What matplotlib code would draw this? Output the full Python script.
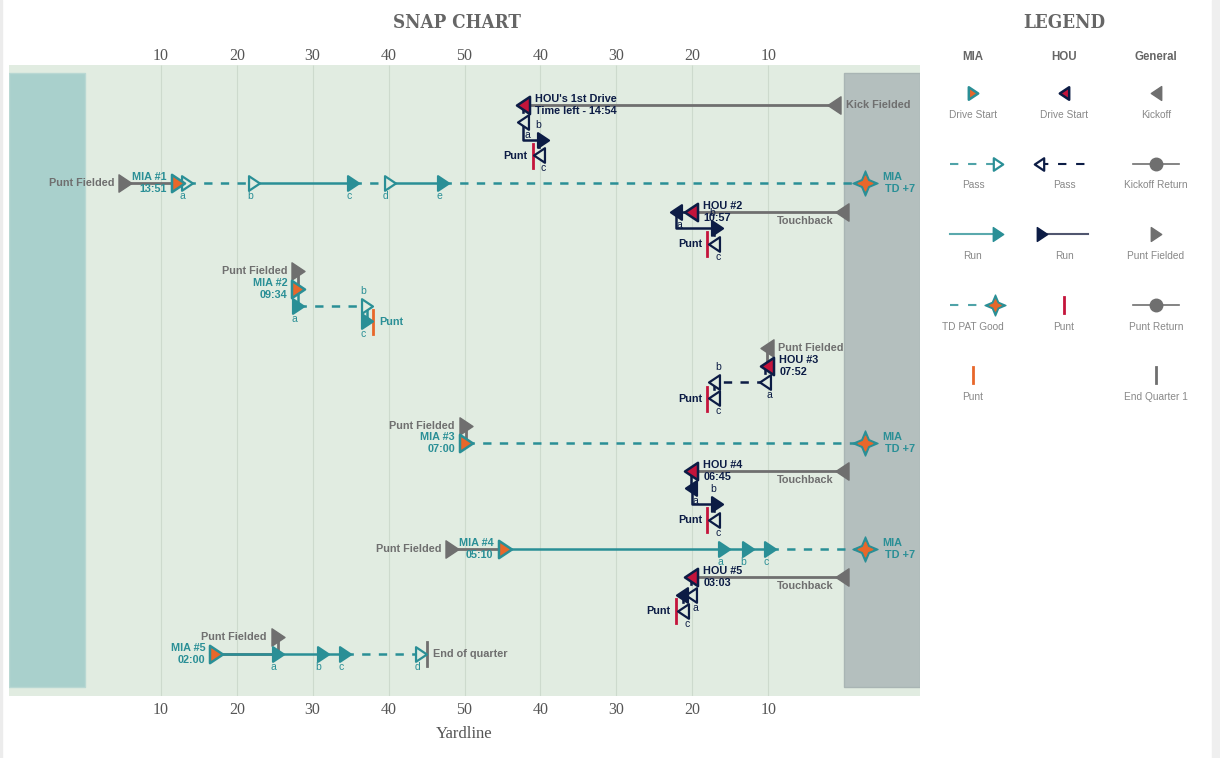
import matplotlib
matplotlib.use('Agg')
import matplotlib.pyplot as plt
from matplotlib.path import Path
from matplotlib.patches import Rectangle

# ---- data (yards from MIA goal line, lanes top -> bottom) ----
drive_team = ['HOU', 'MIA', 'HOU', 'MIA', 'HOU', 'MIA', 'HOU', 'MIA', 'HOU', 'MIA']
drive_name = ["HOU's 1st Drive", 'MIA #1', 'HOU #2', 'MIA #2', 'HOU #3',
              'MIA #3', 'HOU #4', 'MIA #4', 'HOU #5', 'MIA #5']
drive_time = ['Time left - 14:54', '13:51', '10:57', '09:34', '07:52',
              '07:00', '06:45', '05:10', '03:03', '02:00']
drive_start = [57.7, 12.2, 79.8, 28.1, 89.8, 50.2, 79.8, 55.3, 79.8, 17.3]
drive_lane = [105, 183, 212, 289, 366, 443, 471, 549, 577, 654]

# how the ball changed hands before each drive
gain_kind = ['Kick Fielded', 'Punt Fielded', 'Touchback', 'Punt Fielded', 'Punt Fielded',
             'Punt Fielded', 'Touchback', 'Punt Fielded', 'Touchback', 'Punt Fielded']
gain_yard = [98.7, 5.3, 99.7, 28.1, 89.8, 50.2, 99.7, 48.4, 99.7, 25.4]
gain_lane = [105, 183, 212, 271, 348, 426, 471, 549, 577, 637]

# how each drive ended
end_kind = ['Punt', 'TD', 'Punt', 'Punt', 'Punt', 'TD', 'Punt', 'TD', 'Punt', 'End of quarter']
end_yard = [59.0, 102.8, 82.0, 38.0, 82.0, 102.8, 82.0, 102.8, 77.9, 45.1]
end_lane = [156, 183, 244, 322, 399, 443, 520, 549, 611, 654]

# plays
play_drive = [0, 0, 0, 1, 1, 1, 1, 1, 2, 2, 2, 3, 3, 3, 4, 4, 4,
              6, 6, 6, 7, 7, 7, 8, 8, 8, 9, 9, 9, 9]
play_label = ['a', 'b', 'c', 'a', 'b', 'c', 'd', 'e', 'a', 'b', 'c', 'a', 'b', 'c', 'a', 'b', 'c',
              'a', 'b', 'c', 'a', 'b', 'c', 'a', 'b', 'c', 'a', 'b', 'c', 'd']
play_kind = ['pass', 'run', 'pass', 'pass', 'pass', 'run', 'pass', 'run', 'run', 'run', 'pass',
             'run', 'pass', 'run', 'pass', 'pass', 'pass', 'run', 'run', 'pass',
             'run', 'run', 'run', 'pass', 'run', 'pass', 'run', 'run', 'run', 'pass']
play_from = [57.7, 57.7, 59.8, 12.2, 13.4, 22.3, 35.3, 40.2, 79.8, 77.9, 82.8,
             28.1, 28.1, 37.2, 89.6, 89.6, 82.8, 79.8, 80.0, 82.8,
             55.3, 84.2, 87.3, 79.9, 79.9, 78.8, 17.3, 25.4, 31.3, 34.3]
play_to = [57.7, 60.3, 59.8, 13.4, 22.3, 35.3, 40.2, 47.2, 77.8, 83.2, 82.8,
           28.1, 37.2, 37.2, 89.6, 82.8, 82.8, 79.8, 83.3, 82.8,
           84.2, 87.3, 90.3, 79.9, 78.7, 78.8, 25.4, 31.3, 34.3, 44.3]
play_lane = [122, 140, 155, 183, 183, 183, 183, 183, 212, 228, 244,
             306, 306, 321, 382, 382, 398, 488, 504, 520,
             549, 549, 549, 595, 595, 611, 654, 654, 654, 654]
play_above = [0, 1, 0, 0, 0, 0, 0, 0, 0, 1, 0, 0, 1, 0, 0, 1, 0,
              0, 1, 0, 0, 0, 0, 0, -1, 0, 0, 0, 0, 0]

yard_ticks = [10, 20, 30, 40, 50, 60, 70, 80, 90]
yard_labels = ['10', '20', '30', '40', '50', '40', '30', '20', '10']

# legend content
leg_cols = ['MIA', 'HOU', 'General']
leg_items = [
    (0, 0, 'start_mia', 'Drive Start'), (1, 0, 'start_hou', 'Drive Start'), (2, 0, 'kick', 'Kickoff'),
    (0, 1, 'pass_mia', 'Pass'), (1, 1, 'pass_hou', 'Pass'), (2, 1, 'ret', 'Kickoff Return'),
    (0, 2, 'run_mia', 'Run'), (1, 2, 'run_hou', 'Run'), (2, 2, 'pf', 'Punt Fielded'),
    (0, 3, 'td', 'TD PAT Good'), (1, 3, 'punt_hou', 'Punt'), (2, 3, 'ret', 'Punt Return'),
    (0, 4, 'punt_mia', 'Punt'), (2, 4, 'eoq', 'End Quarter 1'),
]

# ---- style ----
teal = '#2a8f96'
orange = '#e8672a'
navy = '#0c1c45'
crimson = '#c4143b'
grey = '#6f6f6f'
field = '#e1ece1'
col = {'MIA': teal, 'HOU': navy}
dirn = {'MIA': 1, 'HOU': -1}
plt.rcParams['lines.scale_dashes'] = False
sans = 'Liberation Sans'

codes = [Path.MOVETO, Path.LINETO, Path.LINETO, Path.CLOSEPOLY]
tri = {1: Path([(-0.75, -1), (0.75, 0), (-0.75, 1), (-0.75, -1)], codes),
       -1: Path([(0.75, -1), (-0.75, 0), (0.75, 1), (0.75, -1)], codes)}
star = Path.unit_regular_star(4, 0.42)

fig = plt.figure(figsize=(12.2, 7.58), dpi=100)
fig.patches.append(Rectangle((1212/1220, 0), 8/1220, 1, transform=fig.transFigure,
                             color='#efefef', zorder=0))
fig.patches.append(Rectangle((0, 0), 2/1220, 1, transform=fig.transFigure,
                             color='#ececec', zorder=0))

ax = fig.add_axes([9/1220, 1-696/758, 911/1220, 631/758])
ax.set_xlim(-10, 110)
ax.set_ylim(696, 65)
ax.set_facecolor(field)
for s in ax.spines.values():
    s.set_visible(False)
ax.set_yticks([])
ax.set_xticks(yard_ticks)
ax.set_xticklabels(yard_labels, family='Liberation Serif', fontsize=11.5, color='#555555')
ax.tick_params(axis='x', length=0, pad=4)
top = ax.secondary_xaxis('top')
top.set_xticks(yard_ticks)
top.set_xticklabels(yard_labels, family='Liberation Serif', fontsize=11.5, color='#555555')
top.tick_params(axis='x', length=0, pad=0.5)
top.spines['top'].set_visible(False)
ax.vlines(yard_ticks, 65, 696, color='#cddacd', lw=0.8, zorder=1)
ax.add_patch(Rectangle((-10, 73), 10, 614, facecolor='#a9d0cc', edgecolor='#b9d8d3', lw=1, zorder=1))
ax.add_patch(Rectangle((100, 73), 10, 614, facecolor='#b4bfbe', edgecolor='#a9b5b4', lw=1, zorder=1))
ax.set_xlabel('Yardline', family='Liberation Serif', fontsize=12, color='#555555', labelpad=6)


def txt(s, x, y, dx, dy, color, ha='left', bold=True, size=7.8):
    ax.annotate(s, (x, y), xytext=(dx, dy), textcoords='offset points', ha=ha, va='center',
                color=color, fontsize=size, family=sans, weight='bold' if bold else 'normal',
                zorder=8)


def mark(x, y, d, face, edge, ms=10.5, mew=1.6, z=5):
    ax.plot([x], [y], ls='none', marker=tri[d], ms=ms, mfc=face, mec=edge, mew=mew, zorder=z)


for i, team in enumerate(drive_team):
    c = col[team]
    d = dirn[team]
    x0, y0 = drive_start[i], drive_lane[i]
    # return / change of possession
    ax.plot([gain_yard[i], gain_yard[i], x0], [gain_lane[i], y0, y0], color=grey, lw=2, zorder=2,
            solid_capstyle='butt')
    mark(gain_yard[i], gain_lane[i], d, grey, grey, ms=12.5, mew=1, z=4)
    if gain_kind[i] == 'Touchback':
        txt('Touchback', gain_yard[i], gain_lane[i], -6, -6.5, grey, ha='right')
    elif team == 'HOU':
        txt(gain_kind[i], gain_yard[i], gain_lane[i], 8.5, 0, grey)
    else:
        txt(gain_kind[i], gain_yard[i], gain_lane[i], -8, 0, grey, ha='right')

    # plays
    px, py = x0, y0
    for j in [k for k, v in enumerate(play_drive) if v == i]:
        a, b, y = play_from[j], play_to[j], play_lane[j]
        ls = '-' if play_kind[j] == 'run' else (0, (6, 6))
        ax.plot([a, a, b], [py, y, y], color=c, lw=1.8, ls=ls, zorder=3)
        pd = d if (b - a) * d >= 0 else -d
        if play_kind[j] == 'run':
            mark(b, y, pd, c, c, z=6)
        else:
            mark(b, y, pd, field, c, z=6)
        if play_above[j] >= 0:
            lx = -3 if pd == 1 else 3
            ly = 10.5 if play_above[j] == 1 else -9.5
            txt(play_label[j], b, y, lx, ly, c, ha='center', bold=False, size=7.5)
        px, py = b, y
    mark(x0, y0, d, orange if team == 'MIA' else crimson, c, ms=12.5, mew=1.8, z=7)
    if team == 'HOU':
        txt(drive_name[i], x0, y0, 9, 4.5, navy)
        txt(drive_time[i], x0, y0, 9, -4.5, navy)
    else:
        txt(drive_name[i], x0, y0, -8, 4.5, teal, ha='right')
        txt(drive_time[i], x0, y0, -8, -4.5, teal, ha='right')

    # ending
    ex, ey = end_yard[i], end_lane[i]
    if end_kind[i] == 'TD':
        ax.plot([px, ex], [py, ey], color=c, lw=1.8, ls=(0, (6, 6)), zorder=3)
        ax.plot([ex], [ey], ls='none', marker=star, ms=18, mfc=teal, mec=teal, zorder=7)
        ax.plot([ex], [ey], ls='none', marker=star, ms=10.5, mfc=orange, mec=orange, zorder=8)
        txt('MIA', ex, ey, 12.5, 4, teal)
        txt('TD +7', ex, ey, 14, -4.5, teal)
    elif end_kind[i] == 'Punt':
        pc = orange if team == 'MIA' else crimson
        ax.plot([ex, ex], [ey - 12, ey + 12], color=pc, lw=2, zorder=4)
        if team == 'HOU':
            txt('Punt', ex, ey, -4, 0, navy, ha='right')
        else:
            txt('Punt', ex, ey, 4, 0, teal)
    else:
        ax.plot([ex, ex], [ey - 12, ey + 12], color=grey, lw=2, zorder=4)
        txt(end_kind[i], ex, ey, 4, 0, grey)

fig.text(457/1220, 1-23/758, 'SNAP CHART', ha='center', va='center', family='DejaVu Serif',
         fontstretch='condensed', weight='bold', fontsize=13.5, color='#666666')
fig.text(1064/1220, 1-23/758, 'LEGEND', ha='center', va='center', family='DejaVu Serif',
         fontstretch='condensed', weight='bold', fontsize=13.5, color='#666666')

# ---- legend ----
lg = fig.add_axes([925/1220, 0, 287/1220, 1])
lg.set_xlim(925, 1212)
lg.set_ylim(758, 0)
lg.axis('off')
col_x = [973, 1064, 1156]
for k, name in enumerate(leg_cols):
    lg.text(col_x[k], 57, name, ha='center', va='center', family=sans, weight='bold',
            fontsize=8.3, color='#666666')
for ci, ri, kind, label in leg_items:
    x = col_x[ci]
    y = 93 + ri * 70.5
    lg.text(x, y + 22, label, ha='center', va='center', family=sans, fontsize=7.3, color='#888888')
    if kind == 'start_mia':
        lg.plot([x], [y], marker=tri[1], ms=9, mfc=orange, mec=teal, mew=1.8)
    elif kind == 'start_hou':
        lg.plot([x], [y], marker=tri[-1], ms=9, mfc=crimson, mec=navy, mew=1.8)
    elif kind == 'kick':
        lg.plot([x], [y], marker=tri[-1], ms=10, mfc=grey, mec=grey, mew=1)
    elif kind == 'pf':
        lg.plot([x], [y], marker=tri[1], ms=10, mfc=grey, mec=grey, mew=1)
    elif kind == 'pass_mia':
        lg.plot([x - 23, x + 24], [y, y], color='#4fa3a8', lw=1.5, ls=(0, (6, 7)))
        lg.plot([x + 25], [y], marker=tri[1], ms=9, mfc='white', mec=teal, mew=1.6)
    elif kind == 'pass_hou':
        lg.plot([x - 24, x + 23], [y, y], color=navy, lw=1.5, ls=(0, (6, 7)))
        lg.plot([x - 25], [y], marker=tri[-1], ms=9, mfc='white', mec=navy, mew=1.6)
    elif kind == 'run_mia':
        lg.plot([x - 23, x + 24], [y, y], color='#5aa9ad', lw=1.5)
        lg.plot([x + 25], [y], marker=tri[1], ms=10, mfc=teal, mec=teal, mew=1)
    elif kind == 'run_hou':
        lg.plot([x - 22, x + 24], [y, y], color='#50566f', lw=1.5)
        lg.plot([x - 22], [y], marker=tri[1], ms=10, mfc=navy, mec=navy, mew=1)
    elif kind == 'ret':
        lg.plot([x - 23, x + 23], [y, y], color=grey, lw=1.2)
        lg.plot([x], [y], marker='o', ms=9, mfc=grey, mec=grey)
    elif kind == 'td':
        lg.plot([x - 23, x + 4], [y, y], color='#4fa3a8', lw=1.5, ls=(0, (6, 7)))
        lg.plot([x + 22], [y], marker=star, ms=15, mfc=teal, mec=teal)
        lg.plot([x + 22], [y], marker=star, ms=8, mfc=orange, mec=orange)
    elif kind in ('punt_hou', 'punt_mia', 'eoq'):
        pc = {'punt_hou': crimson, 'punt_mia': orange, 'eoq': grey}[kind]
        lg.plot([x, x], [y - 8, y + 8], color=pc, lw=2)

fig.savefig('out.png', dpi=100, facecolor='white')
